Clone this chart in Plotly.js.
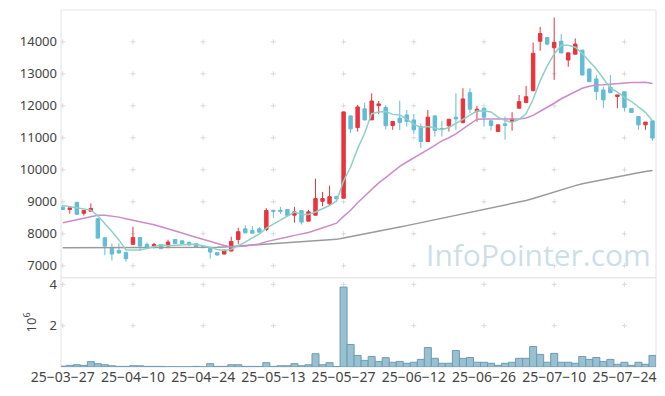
<!DOCTYPE html>
<html>
<head>
<meta charset="utf-8">
<script src="https://cdn.plot.ly/plotly-3.0.1.min.js"></script>
<style>html,body{margin:0;padding:0;background:#fff;}#chart{width:665px;height:396px;}</style>
</head>
<body>
<div id="chart"></div>
<script>
const dates = ['25-03-27','25-03-28','25-03-31','25-04-01','25-04-02','25-04-03','25-04-04','25-04-07','25-04-08','25-04-09',
'25-04-10','25-04-11','25-04-14','25-04-15','25-04-16','25-04-17','25-04-18','25-04-21','25-04-22','25-04-23',
'25-04-24','25-04-25','25-04-28','25-04-29','25-04-30','25-05-02','25-05-07','25-05-08','25-05-09','25-05-12',
'25-05-13','25-05-14','25-05-15','25-05-16','25-05-19','25-05-20','25-05-21','25-05-22','25-05-23','25-05-26',
'25-05-27','25-05-28','25-05-29','25-05-30','25-06-02','25-06-04','25-06-05','25-06-09','25-06-10','25-06-11',
'25-06-12','25-06-13','25-06-16','25-06-17','25-06-18','25-06-19','25-06-20','25-06-23','25-06-24','25-06-25',
'25-06-26','25-06-27','25-06-30','25-07-01','25-07-02','25-07-03','25-07-04','25-07-07','25-07-08','25-07-09',
'25-07-10','25-07-11','25-07-14','25-07-15','25-07-16','25-07-17','25-07-18','25-07-21','25-07-22','25-07-23',
'25-07-24','25-07-25','25-07-28','25-07-29','25-07-30'];

const open = [8830,8760,8985,8640,8705,8470,7875,7545,7480,7420,
7670,7880,7670,7615,7665,7615,7820,7780,7730,7690,
7615,7545,7410,7365,7460,7820,8155,8100,8155,8135,
8735,8735,8760,8580,8725,8395,8580,9015,8935,9170,
9110,11685,11320,11905,11560,12005,11945,11385,11615,11715,
11560,11350,10885,11685,11290,11375,11645,11475,12410,11820,
11925,11530,11195,11435,11510,11925,12100,12475,14020,14135,
13815,14020,13430,13615,13740,13150,12840,12495,12580,12290,
12440,11915,11665,11405,11530];
const high = [8900,8810,8990,8740,8945,8480,7880,7690,7700,7420,
8220,7885,7730,7720,7670,7815,7830,7790,7760,7700,
7620,7550,7420,7500,7905,8190,8260,8240,8205,8800,
8740,8840,8765,8840,8730,8750,9720,9310,9505,9180,
11820,11690,12030,12100,12390,12150,12020,11520,12160,11870,
11740,11450,11870,11700,11530,11590,12390,12550,12550,12000,
11950,11560,11410,11665,11800,12340,12620,13980,14465,14140,
14760,14240,13660,14105,13750,13160,12965,12600,12965,12345,
12450,11920,11680,11490,11540];
const low = [8740,8630,8600,8570,8690,7860,7330,7160,7380,7130,
7660,7460,7570,7545,7530,7545,7690,7680,7640,7570,
7560,7220,7320,7360,7450,7670,8020,8015,8040,8080,
8500,8610,8565,8345,8290,8390,8570,8860,8900,9080,
9100,11145,11195,11540,11560,11740,11270,11250,11240,11350,
11125,10680,10880,11040,11040,11195,11250,11450,11770,11500,
11350,11230,11190,10940,11220,11920,12090,12450,13720,13890,
12810,13640,13220,13600,12950,12750,12185,11925,12400,11925,
11820,11780,11250,11250,10915];
const close = [8760,8810,8610,8730,8790,7865,7615,7365,7400,7220,
7880,7615,7575,7665,7535,7740,7690,7690,7650,7575,
7565,7430,7335,7490,7760,8065,8030,8020,8050,8725,
8700,8700,8570,8685,8365,8685,9100,9100,9160,9090,
11810,11280,11965,11560,12150,12060,11380,11510,11475,11510,
11250,10885,11645,11230,11270,11580,11590,12215,11895,11895,
11645,11385,11405,11385,11590,12130,12285,13640,14260,13930,
13980,13655,13655,13930,12965,12755,12445,12185,12410,12340,
11945,11790,11405,11490,10990];

const ma5 = [8880,8840,8810,8780,8740,8561,8322,8073,7807,7493,
7496,7496,7538,7591,7654,7626,7641,7664,7661,7669,
7634,7582,7511,7479,7516,7616,7736,7873,7985,8178,
8305,8439,8549,8676,8604,8601,8681,8787,8882,9027,
9652,10088,10661,11141,11753,11803,11823,11732,11715,11587,
11425,11326,11353,11304,11256,11322,11463,11577,11710,11835,
11848,11807,11645,11543,11482,11579,11759,12206,12781,13249,
13619,13893,13896,13830,13637,13392,13150,12856,12552,12427,
12265,12134,11978,11794,11524];
const ma20 = [8343,8390,8440,8500,8550,8575,8580,8560,8520,8470,
8425,8385,8335,8280,8220,8160,8095,8025,7955,7889,
7829,7760,7697,7635,7583,7593,7614,7647,7679,7754,
7795,7850,7899,7950,7992,8039,8110,8180,8256,8331,
8544,8736,8968,9171,9391,9590,9758,9932,10104,10243,
10370,10480,10633,10761,10906,11001,11125,11281,11418,11580,
11590,11600,11590,11590,11580,11590,11620,11700,11830,11950,
12080,12220,12330,12460,12550,12610,12650,12660,12680,12700,
12715,12730,12730,12735,12700];
const ma60 = [7560,7560,7562,7562,7563,7563,7563,7562,7560,7558,
7556,7555,7555,7556,7557,7558,7558,7559,7560,7562,
7564,7570,7575,7590,7605,7620,7630,7640,7655,7667,
7685,7700,7720,7735,7750,7765,7780,7795,7810,7825,
7870,7910,7950,7990,8030,8070,8110,8160,8210,8255,
8300,8345,8390,8435,8480,8530,8575,8625,8670,8720,
8770,8815,8860,8905,8950,8995,9040,9100,9170,9240,
9310,9375,9440,9505,9565,9610,9655,9700,9745,9790,
9830,9870,9905,9945,9980];

// volume in millions (axis title 10^6)
const volume = [0.04,0.08,0.11,0.08,0.26,0.16,0.11,0.06,0.03,0.03,
0.06,0.06,0.03,0.03,0.03,0.01,0.01,0.01,0.01,0.03,
0.01,0.16,0.03,0.03,0.11,0.11,0.03,0.03,0.03,0.21,
0.03,0.06,0.06,0.16,0.06,0.11,0.64,0.11,0.21,0.02,
3.87,1.09,0.56,0.32,0.51,0.27,0.45,0.23,0.27,0.18,
0.23,0.37,0.94,0.42,0.18,0.18,0.80,0.42,0.46,0.23,
0.23,0.18,0.08,0.18,0.23,0.42,0.42,0.99,0.61,0.23,
0.66,0.23,0.23,0.18,0.51,0.37,0.46,0.27,0.37,0.13,
0.23,0.08,0.23,0.13,0.56];

const xTickLabels = ['25-03-27','25-04-10','25-04-24','25-05-13','25-05-27','25-06-12','25-06-26','25-07-10','25-07-24'];
const priceTicks = [7000,8000,9000,10000,11000,12000,13000,14000];
const volumeTicks = [2,4];

// light "+" grid marks at tick intersections, drawn beneath the traces
const gridColor = '#dadada';
const shapes = [];
function addCross(xi, yv, yref){
  shapes.push({type:'line', layer:'below', xref:'x', yref:yref, xsizemode:'pixel', xanchor:xi, x0:-2.5, x1:2.5,
    ysizemode:'pixel', yanchor:yv, y0:0, y1:0, line:{color:gridColor, width:1}});
  shapes.push({type:'line', layer:'below', xref:'x', yref:yref, xsizemode:'pixel', xanchor:xi, x0:0, x1:0,
    ysizemode:'pixel', yanchor:yv, y0:-2.5, y1:2.5, line:{color:gridColor, width:1}});
}
xTickLabels.forEach(function(t){
  const xi = dates.indexOf(t);
  priceTicks.forEach(function(p){ addCross(xi, p, 'y'); });
  volumeTicks.forEach(function(v){ addCross(xi, v, 'y2'); });
});
shapes.push({type:'rect', xref:'paper', yref:'paper', x0:0, x1:1, y0:0.25, y1:1, line:{color:'#e4e4e4', width:1}, layer:'below'});
shapes.push({type:'rect', xref:'paper', yref:'paper', x0:0, x1:1, y0:0, y1:0.25, line:{color:'#e4e4e4', width:1}, layer:'below'});

const traces = [
  {type:'scatter', mode:'lines', x:dates, y:ma60, xaxis:'x', yaxis:'y', line:{color:'#9a9a9a', width:1.5}, hoverinfo:'skip', showlegend:false},
  {type:'scatter', mode:'lines', x:dates, y:ma20, xaxis:'x', yaxis:'y', line:{color:'#cc8cc8', width:1.5}, hoverinfo:'skip', showlegend:false},
  {type:'scatter', mode:'lines', x:dates, y:ma5, xaxis:'x', yaxis:'y', line:{color:'#8fd0c6', width:1.5}, hoverinfo:'skip', showlegend:false},
  {type:'candlestick', x:dates, open:open, high:high, low:low, close:close, xaxis:'x', yaxis:'y',
   increasing:{line:{color:'#e8343c', width:1}, fillcolor:'#e8343c'},
   decreasing:{line:{color:'#62bcd8', width:1}, fillcolor:'#62bcd8'},
   showlegend:false, hoverinfo:'skip'},
  {type:'bar', x:dates, y:volume, xaxis:'x', yaxis:'y2',
   marker:{color:'#98c0d0', line:{color:'#6d9cb4', width:1}}, showlegend:false, hoverinfo:'skip'}
];

const yFont = {family:'Noto Sans, Open Sans, sans-serif', size:13, color:'#444'};
const xFont = {family:'Noto Sans, Open Sans, sans-serif', size:14, color:'#444'};
const layout = {
  width:665, height:396,
  margin:{l:61, r:9, t:10, b:29},
  paper_bgcolor:'#fff', plot_bgcolor:'#fff',
  showlegend:false, hovermode:false, bargap:0,
  xaxis:{type:'category', categoryorder:'array', categoryarray:dates, anchor:'y2', range:[-0.25,84.5], rangeslider:{visible:false},
    tickmode:'array', tickvals:xTickLabels, ticktext:xTickLabels.map(function(s){return s.replace(/-/g,'\u2212');}),
    tickfont:xFont, showgrid:false, zeroline:false, showline:false, ticks:''},
  yaxis:{domain:[0.25,1], range:[6625,14995], tickmode:'array', tickvals:priceTicks, tickformat:'d',
    tickfont:yFont, showgrid:false, zeroline:false, showline:false, ticks:'', ticklabelstandoff:3},
  yaxis2:{domain:[0,0.25], range:[0,4.32], tickmode:'array', tickvals:volumeTicks, tickformat:'d',
    tickfont:yFont, showgrid:false, zeroline:false, showline:false, ticks:'', ticklabelstandoff:3,
    title:{text:'10<sup>6</sup>', font:yFont, standoff:10}},
  shapes:shapes,
  annotations:[
    {text:'InfoPointer.com', xref:'paper', yref:'paper', x:0.803, y:0.314, xanchor:'center', yanchor:'middle',
     showarrow:false, font:{family:'Open Sans, Noto Sans, sans-serif', size:30, color:'rgba(160,195,212,0.55)'}}
  ]
};

Plotly.newPlot('chart', traces, layout, {staticPlot:true, displayModeBar:false});
</script>
</body>
</html>
